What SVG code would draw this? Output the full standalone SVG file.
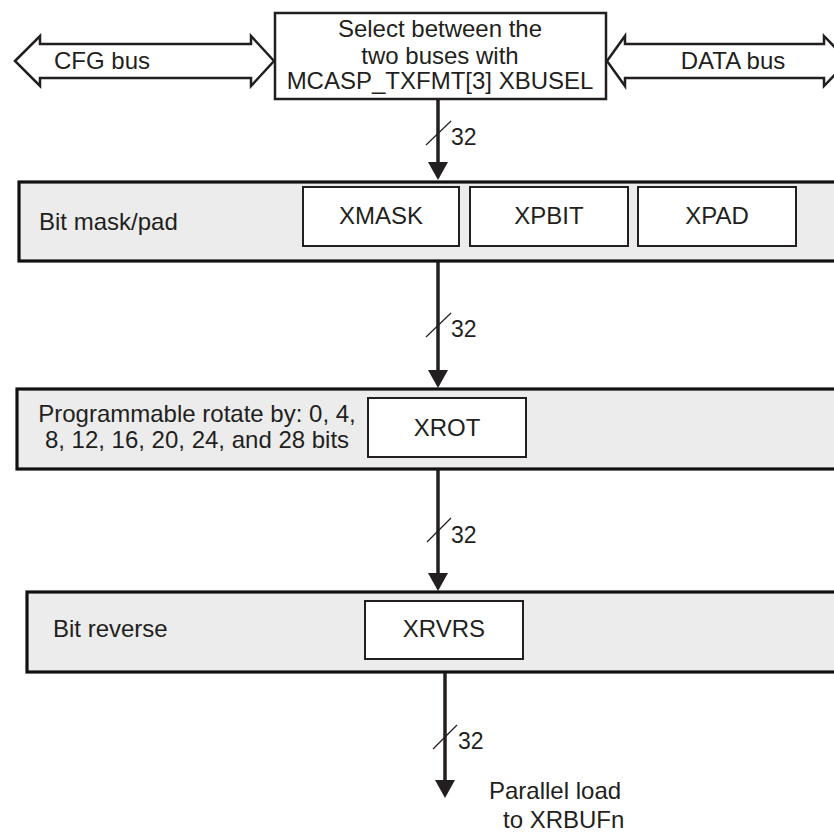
<svg xmlns="http://www.w3.org/2000/svg" width="834" height="833" viewBox="0 0 834 833">
<style>
  text { font-family: "Liberation Sans", Arial, sans-serif; font-size: 24px; fill: #231f20; }
  .mid { text-anchor: middle; }
  .stage { fill: #ececec; stroke: #111; stroke-width: 3.2; }
  .inner { fill: #fff; stroke: #231f20; stroke-width: 2; }
  .bus { fill: #fff; stroke: #231f20; stroke-width: 2.5; stroke-linejoin: miter; }
  .wire { stroke: #231f20; stroke-width: 3.5; fill: none; }
  .slash { stroke: #231f20; stroke-width: 1.2; }
  .w32 { font-size: 23px; }
</style>
<defs>
  <marker id="ah" markerUnits="userSpaceOnUse" markerWidth="20" markerHeight="20" refX="4" refY="10" orient="auto">
    <path d="M0,0 L18,10 L0,20 Z" fill="#231f20"/>
  </marker>
</defs>
<rect width="834" height="833" fill="#fff"/>

<g id="cfg-bus">
  <path class="bus" d="M15,61 L40,36 L40,44 L251,44 L251,36 L274,61 L251,86 L251,78 L40,78 L40,86 Z"/>
  <text x="54" y="69">CFG bus</text>
</g>
<g id="data-bus">
  <path class="bus" d="M607,61 L625,36 L625,44 L824,44 L824,36 L848,61 L824,86 L824,78 L625,78 L625,86 Z"/>
  <text class="mid" x="733" y="69">DATA bus</text>
</g>
<g id="select">
  <rect x="275" y="13" width="331" height="86" fill="#fff" stroke="#231f20" stroke-width="2.5"/>
  <text class="mid" x="440" y="37">Select between the</text>
  <text class="mid" x="440" y="64">two buses with</text>
  <text class="mid" x="440" y="89">MCASP_TXFMT[3] XBUSEL</text>
</g>

<g id="mask-pad">
  <rect class="stage" x="19" y="182" width="840" height="79"/>
  <text x="39" y="230">Bit mask/pad</text>
  <g id="xmask">
    <rect class="inner" x="303" y="187" width="156" height="59"/>
    <text class="mid" x="381" y="224">XMASK</text>
  </g>
  <g id="xpbit">
    <rect class="inner" x="470" y="187" width="158" height="59"/>
    <text class="mid" x="549" y="224">XPBIT</text>
  </g>
  <g id="xpad">
    <rect class="inner" x="638" y="187" width="158" height="59"/>
    <text class="mid" x="717" y="224">XPAD</text>
  </g>
</g>

<g id="rotate">
  <rect class="stage" x="17" y="389" width="840" height="80"/>
  <text class="mid" x="197" y="422">Programmable rotate by: 0, 4,</text>
  <text class="mid" x="197" y="448">8, 12, 16, 20, 24, and 28 bits</text>
  <g id="xrot">
    <rect class="inner" x="368" y="398" width="158" height="59"/>
    <text class="mid" x="447" y="436">XROT</text>
  </g>
</g>

<g id="reverse">
  <rect class="stage" x="27" y="592" width="840" height="80"/>
  <text x="53" y="637">Bit reverse</text>
  <g id="xrvrs">
    <rect class="inner" x="365" y="601" width="158" height="58"/>
    <text class="mid" x="444" y="637">XRVRS</text>
  </g>
</g>

<g id="output-label">
  <text x="489" y="799">Parallel load</text>
  <text x="503" y="828">to XRBUFn</text>
</g>

<g id="connectors">
  <line class="wire" x1="438" y1="99" x2="438" y2="166" marker-end="url(#ah)"/>
  <line class="slash" x1="426" y1="145" x2="451" y2="121"/>
  <text class="w32" x="451" y="145">32</text>

  <line class="wire" x1="438" y1="262" x2="438" y2="374" marker-end="url(#ah)"/>
  <line class="slash" x1="426" y1="337" x2="451" y2="313"/>
  <text class="w32" x="451" y="337">32</text>

  <line class="wire" x1="438" y1="470" x2="438" y2="577" marker-end="url(#ah)"/>
  <line class="slash" x1="427" y1="542" x2="451" y2="518"/>
  <text class="w32" x="451" y="543">32</text>

  <line class="wire" x1="445" y1="673" x2="445" y2="784" marker-end="url(#ah)"/>
  <line class="slash" x1="433" y1="749" x2="457" y2="725"/>
  <text class="w32" x="458" y="749">32</text>
</g>
</svg>
